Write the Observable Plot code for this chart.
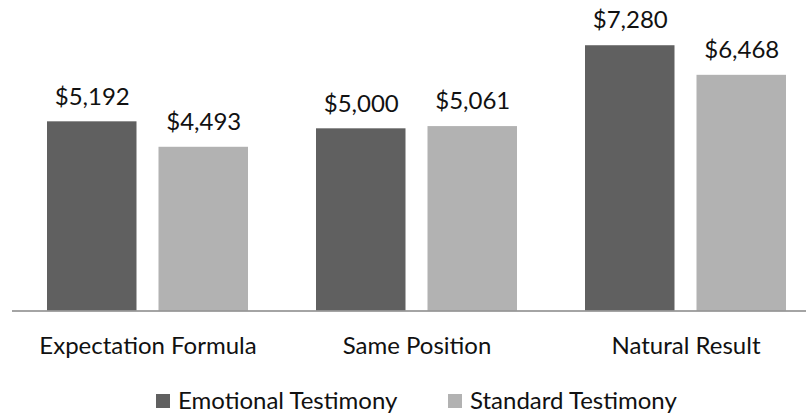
<!DOCTYPE html>
<html>
<head>
<meta charset="utf-8">
<script src="https://cdn.jsdelivr.net/npm/d3@7"></script>
<script src="https://cdn.jsdelivr.net/npm/@observablehq/plot@0.6"></script>
<style>
  html, body { margin: 0; padding: 0; background: #fff; overflow: hidden; }
  #wrap { width: 806px; height: 417px; position: relative; }
  #chart svg { overflow: hidden; display: block; }
  .legend { position: relative; width: 806px; height: 45px; font-family: Lato, sans-serif; font-size: 24px; color: #111; }
  .legend .sw { position: absolute; top: 22px; width: 14px; height: 14px; }
  .legend .lb { position: absolute; top: 15.5px; line-height: 24px; white-space: nowrap; }
</style>
</head>
<body>
<div id="wrap">
  <div id="chart"></div>
  <div class="legend" id="legend"></div>
</div>
<script>
const categories = ["Expectation Formula", "Same Position", "Natural Result"];
const seriesNames = ["Emotional Testimony", "Standard Testimony"];
const emotionalValues = [5192, 5000, 7280];
const standardValues = [4493, 5061, 6468];
const seriesColors = ["#606060", "#b2b2b2"];

const fmt = d3.format("$,");
const emotional = categories.map((c, i) => ({category: c, series: seriesNames[0], value: emotionalValues[i]}));
const standard = categories.map((c, i) => ({category: c, series: seriesNames[1], value: standardValues[i]}));

const plot = Plot.plot({
  width: 806,
  height: 372,
  marginLeft: 12,
  marginRight: -14,
  marginTop: 19,
  marginBottom: 61.5,
  style: {fontFamily: "Lato, sans-serif", fontSize: "24px", color: "#111", background: "#fff", overflow: "hidden"},
  x: {domain: categories, paddingInner: 0.2537, paddingOuter: 0.1269, label: null, tickSize: 0, tickPadding: 25.5},
  y: {domain: [0, 8000], axis: null},
  color: {domain: seriesNames, range: seriesColors},
  marks: [
    Plot.barY(emotional, {x: "category", y: "value", fill: "series", insetRight: 111.5}),
    Plot.barY(standard, {x: "category", y: "value", fill: "series", insetLeft: 111.5}),
    Plot.text(emotional, {x: "category", y: "value", text: d => fmt(d.value), dx: -55.75, dy: -25, fontSize: 24, fill: "#111"}),
    Plot.text(standard, {x: "category", y: "value", text: d => fmt(d.value), dx: 55.75, dy: -25, fontSize: 24, fill: "#111"}),
    Plot.ruleY([0], {stroke: "#868686", strokeWidth: 1.5})
  ]
});
document.getElementById("chart").append(plot);

const legendPos = [156, 448];
const legend = document.getElementById("legend");
seriesNames.forEach((name, i) => {
  const sw = document.createElement("div");
  sw.className = "sw";
  sw.style.left = legendPos[i] + "px";
  sw.style.background = seriesColors[i];
  const lb = document.createElement("div");
  lb.className = "lb";
  lb.style.left = (legendPos[i] + 22) + "px";
  lb.textContent = name;
  legend.append(sw, lb);
});
</script>
</body>
</html>
